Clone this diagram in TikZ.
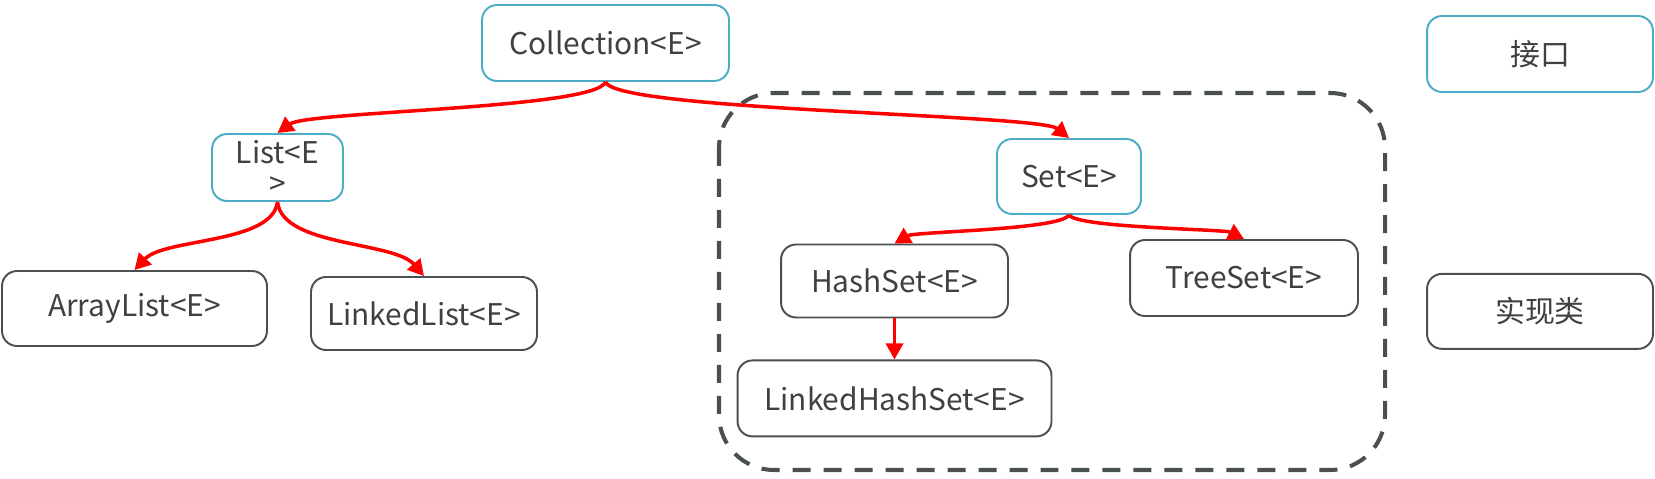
\documentclass[tikz,border=0pt]{standalone}
\usepackage{fontspec}
\setmainfont{Noto Sans CJK SC}
\usepackage{tikz}
\usetikzlibrary{arrows.meta,positioning,calc}
\usepackage{xcolor}
\definecolor{ifaceblue}{HTML}{4BACC6}
\definecolor{implgray}{HTML}{4A4F4F}
\definecolor{labelgray}{HTML}{404040}
\tikzset{
    ifacebox/.style={draw=ifaceblue, line width=1.1pt, rounded corners=0.3cm, fill=white, align=center, text=labelgray, font=\fontsize{17}{18}\selectfont, minimum height=1.5cm},
    implbox/.style={draw=implgray, line width=1.1pt, rounded corners=0.3cm, fill=white, align=center, text=labelgray, font=\fontsize{17}{18}\selectfont, minimum height=1.5cm},
    inharrow/.style={-{Triangle[length=0.32cm,width=0.34cm]}, red, line width=2pt},
    setframe/.style={draw=implgray, line width=2.3pt, dash pattern=on 0.36cm off 0.26cm, rounded corners=1.1cm}
}

\begin{document}
\begin{tikzpicture}[x=0.02cm, y=-0.02cm]
        \useasboundingbox (0,0) rectangle (1655,479);
        \draw[setframe] (719,93) rectangle (1385,470);

        \node[ifacebox, minimum width=4.94cm, minimum height=1.52cm] (coll) at (605.5,43) {Collection<E>};
        \node[ifacebox, minimum width=2.62cm, minimum height=1.34cm] (list) at (277.5,167.5) {List<E\\>};
        \node[ifacebox, minimum width=2.88cm] (set) at (1069,176.5) {Set<E>};
        \node[implbox, minimum width=5.3cm] (arraylist) at (134.5,308.5) {ArrayList<E>};
        \node[implbox, minimum width=4.52cm, minimum height=1.46cm] (linkedlist) at (424,313.5) {LinkedList<E>};
        \node[implbox, minimum width=4.54cm, minimum height=1.46cm] (hashset) at (894.5,281) {HashSet<E>};
        \node[implbox, minimum width=6.28cm, minimum height=1.52cm, below=0.82cm of hashset] (linkedhashset) {LinkedHashSet<E>};
        \node[implbox, minimum width=4.56cm, minimum height=1.52cm] (treeset) at (1244,278) {TreeSet<E>};

        \node[ifacebox, minimum width=4.52cm, minimum height=1.52cm] (legiface) at (1540,54) {接口};
        \node[implbox, minimum width=4.52cm, below=3.6cm of legiface] (legimpl) {实现类};

        \draw[inharrow] (coll.south) .. controls +(-10,27) and +(30,-22) .. (list.north);
        \draw[inharrow] (coll.south) .. controls +(10,29) and +(-30,-24) .. (set.north);
        \draw[inharrow] (list.south) .. controls +(-5,42) and +(30,-32) .. (arraylist.north);
        \draw[inharrow] (list.south) .. controls +(5,45) and +(-30,-35) .. (linkedlist.north);
        \draw[inharrow] (set.south) .. controls +(-8,15) and +(20,-12) .. (hashset.north);
        \draw[inharrow] (set.south) .. controls +(8,13) and +(-20,-10) .. (treeset.north);
        \draw[inharrow] (hashset) -- (linkedhashset);
    \end{tikzpicture}
\end{document}
